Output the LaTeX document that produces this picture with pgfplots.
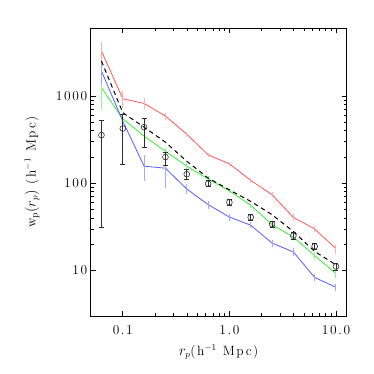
\documentclass[border=0pt]{standalone}
\usepackage{fontspec}
\setmainfont{Latin Modern Roman}[LetterSpace=12]
\usepackage{pgfplots}
\pgfplotsset{compat=1.18}
\definecolor{cred}{RGB}{255,85,85}
\definecolor{cgreen}{RGB}{50,235,50}
\definecolor{cblue}{RGB}{90,90,255}
\definecolor{lred}{RGB}{255,175,175}
\definecolor{lgreen}{RGB}{150,240,150}
\definecolor{lblue}{RGB}{165,165,255}
\definecolor{cdat}{RGB}{45,45,45}
\newcommand{\fs}{\fontsize{13.5}{16}\selectfont}
\begin{document}
\begin{tikzpicture}
\begin{axis}[
  name=ax,
  scale only axis, width=256bp, height=287.7bp,
  xmode=log, ymode=log,
  xmin=0.05, xmax=12.6, ymin=3, ymax=6000,
  xtick={0.1,1,10}, xticklabels={0.1,1.0,10.0},
  ytick={10,100,1000}, yticklabels={10,100,1000},
  major tick length=5bp, minor tick length=3bp,
  axis line style={line width=0.9pt},
  every tick/.style={black, line width=0.6pt},
  tick label style={font=\fs},
  xticklabel style={yshift=-6bp},
  label style={font=\fs},
  xlabel={$r_p$(h$^{-1}$ Mpc)},
  ylabel={$\mathrm{w_p}(r_p)$ (h$^{-1}$ Mpc)},
  xlabel style={at={(axis description cs:0.5,-0.124)}, anchor=center},
  ylabel style={at={(axis description cs:-0.229,0.5)}, anchor=center},
  clip=false,
]
% red
\addplot[cred, line width=0.8pt, error bars/.cd, y dir=both, y explicit relative, error mark=none, error bar style={lred, line width=1pt}]
 table[x=x, y=y, y error=e] {
x y e
0.0631 3290 0.28
0.1 933 0.22
0.1585 824 0.14
0.2512 590 0.09
0.3981 366 0.07
0.631 212 0.06
1.0 167 0.06
1.585 108 0.06
2.512 74 0.07
3.981 40.6 0.08
6.31 30 0.09
10.0 17.7 0.12
};
% green
\addplot[cgreen, line width=0.8pt, error bars/.cd, y dir=both, y explicit relative, error mark=none, error bar style={lgreen, line width=1pt}]
 table[x=x, y=y, y error=e] {
x y e
0.0631 1250 0.45
0.1 550 0.14
0.1585 347 0.1
0.2512 233 0.09
0.3981 157 0.08
0.631 112 0.07
1.0 82 0.06
1.585 56 0.06
2.512 33.5 0.07
3.981 24.2 0.08
6.31 14.8 0.09
10.0 9.2 0.1
};
% blue
\addplot[cblue, line width=0.8pt, error bars/.cd, y dir=both, y explicit relative, error mark=none, error bar style={lblue, line width=1pt}]
 table[x=x, y=y, y error=e] {
x y e
0.0631 1940 0.3
0.1 516 0.2
0.1585 157 0.33
0.2512 149 0.4
0.3981 86 0.13
0.631 57 0.1
1.0 41 0.09
1.585 33 0.08
2.512 20.6 0.09
3.981 16.3 0.1
6.31 8.3 0.1
10.0 6.4 0.1
};
% dashed
\addplot[black, line width=1pt, dash pattern=on 4.5bp off 3.5bp] table {
0.0631 2520
0.1 645
0.1585 440
0.2512 296
0.3981 179
0.631 115
1.0 84
1.585 62
2.512 43.6
3.981 28
6.31 16.5
10.0 11.6
};
% data
\addplot[cdat, only marks, mark=o, mark size=2.9bp, mark options={line width=0.6pt},
  error bars/.cd, y dir=both, y explicit, error mark options={rotate=90, mark size=2.5bp, line width=0.8pt, cdat}, error bar style={cdat, line width=0.8pt}]
 table[x=x, y=y, y error plus=ep, y error minus=em] {
x y ep em
0.0631 357 173 326
0.1 425 191 261
0.1585 440 109 185
0.2512 200 27 39
0.3981 127 16 15
0.631 99 9 8
1.0 60.5 5 5
1.585 40.6 3.5 3.5
2.512 34 2.5 2.5
3.981 25 2 2
6.31 18.9 1.5 1.5
10.0 11.1 1 1
};
\end{axis}
\pgfresetboundingbox
\path (ax.south west) ++(-90.7bp,-58bp) rectangle ++(374bp,374bp);
\end{tikzpicture}
\end{document}
